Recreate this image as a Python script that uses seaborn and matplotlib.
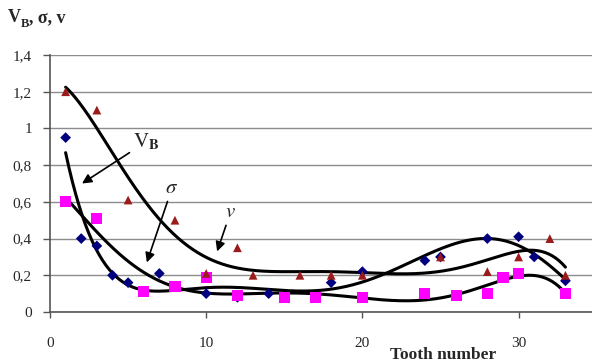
import numpy as np
import pandas as pd
import matplotlib
matplotlib.use("Agg")
import matplotlib.pyplot as plt
import seaborn as sns

# Data
vb_x = [1, 2, 3, 4, 5, 7, 10, 12, 14, 18, 20, 24, 25, 28, 30, 31, 33]
vb_y = [0.95, 0.40, 0.36, 0.20, 0.16, 0.21, 0.10, 0.08, 0.10, 0.16, 0.22, 0.28, 0.30, 0.40, 0.41, 0.30, 0.17]

sig_x = [1, 3, 6, 8, 10, 12, 15, 17, 20, 24, 26, 28, 29, 30, 33]
sig_y = [0.60, 0.51, 0.11, 0.14, 0.19, 0.09, 0.08, 0.08, 0.08, 0.10, 0.09, 0.10, 0.19, 0.21, 0.10]

v_x = [1, 3, 5, 8, 10, 12, 13, 16, 18, 20, 25, 28, 30, 32, 33]
v_y = [1.20, 1.10, 0.61, 0.50, 0.21, 0.35, 0.20, 0.20, 0.20, 0.20, 0.30, 0.22, 0.30, 0.40, 0.20]

y_ticks = [0, 0.2, 0.4, 0.6, 0.8, 1.0, 1.2, 1.4]
y_tick_labels = ["0", "0,2", "0,4", "0,6", "0,8", "1", "1,2", "1,4"]
x_ticks = [0, 10, 20, 30]

sns.set_theme(style="white")
plt.rcParams['font.family'] = ['Liberation Serif', 'DejaVu Serif']
plt.rcParams['mathtext.fontset'] = 'stix'

fig = plt.figure(figsize=(5.92, 3.62), dpi=100)
ax = fig.add_axes([50/592, 50/362, 1 - 50/592, (312-55)/362])

frames = []
for name, xs, ys in [("VB", vb_x, vb_y), ("sigma", sig_x, sig_y), ("v", v_x, v_y)]:
    frames.append(pd.DataFrame({"x": xs, "y": ys, "s": name}))
df = pd.concat(frames, ignore_index=True)

# trend lines (6th order polynomial, like spreadsheet trendlines)
for name, xs, ys in [("VB", vb_x, vb_y), ("sigma", sig_x, sig_y), ("v", v_x, v_y)]:
    coef = np.polyfit(xs, ys, 6)
    xx = np.linspace(min(xs), max(xs), 300)
    sns.lineplot(x=xx, y=np.polyval(coef, xx), ax=ax, color="black", lw=2.2, zorder=3)

colors = {"VB": "#00007F", "sigma": "#FF00FF", "v": "#9B1B1B"}
markers = {"VB": "D", "sigma": "s", "v": "^"}
sizes = {"VB": 30, "sigma": 64, "v": 40}
for name in ["VB", "sigma", "v"]:
    sub = df[df.s == name]
    sns.scatterplot(data=sub, x="x", y="y", ax=ax, color=colors[name], marker=markers[name],
                    s=sizes[name], edgecolor="none", zorder=4, legend=False)

ax.set_xlim(0, 34.7)
ax.set_ylim(0, 1.4)
ax.set_yticks(y_ticks)
ax.set_yticklabels(y_tick_labels)
ax.set_xticks(x_ticks)
ax.set_xlabel("")
ax.set_ylabel("")
ax.grid(axis="y", color="#8c8c8c", lw=1.0)
ax.grid(axis="x", visible=False)
for side in ["top", "right"]:
    ax.spines[side].set_visible(False)
for side in ["left", "bottom"]:
    ax.spines[side].set_color("#555555")
    ax.spines[side].set_linewidth(1.2)
ax.tick_params(axis="y", left=True, length=5, width=1, color="#555555", pad=8, labelsize=11)
ax.tick_params(axis="x", bottom=True, length=4, width=1, color="#555555", pad=14, labelsize=11)

# annotations
akw = dict(arrowstyle="-|>", color="black", lw=1.2, mutation_scale=14, shrinkA=0, shrinkB=0)
ax.annotate(r"$\mathrm{V}_{\mathbf{B}}$", xy=(2.05, 0.70), xytext=(5.3, 0.87),
            arrowprops=akw, fontsize=15, ha="left", va="bottom")
ax.annotate(r"$\sigma$", xy=(6.2, 0.27), xytext=(7.8, 0.62),
            arrowprops=akw, fontsize=15, ha="center", va="bottom")
ax.annotate(r"$v$", xy=(10.7, 0.33), xytext=(11.55, 0.49),
            arrowprops=akw, fontsize=15, ha="center", va="bottom")

# y-axis title "V_B, σ, v" (bold, upright)
t1 = fig.text(8/592, 1 - 26/362, "V", fontsize=13, fontweight="bold", ha="left", va="bottom")
t2 = ax.annotate("B", xy=(1, 0), xycoords=t1, xytext=(0, -3), textcoords="offset points",
                 fontsize=9, fontweight="bold", ha="left", va="bottom", annotation_clip=False)
ax.annotate(", σ, v", xy=(1, 0), xycoords=(t2, t1), fontsize=13, fontweight="bold",
            ha="left", va="bottom", annotation_clip=False)

fig.text(443/592, 1 - 355/362, "Tooth number", fontsize=12.5, fontweight="bold",
         ha="center", va="center")

fig.savefig("out.png", dpi=100)
